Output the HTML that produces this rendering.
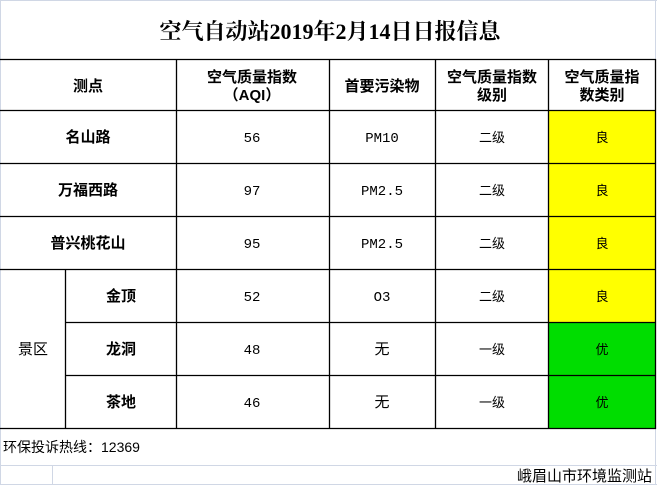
<!DOCTYPE html>
<html><head><meta charset="utf-8"><style>
html,body{margin:0;padding:0;background:#fff;width:657px;height:485px;overflow:hidden}
svg text{font-family:"Liberation Serif","Noto Serif CJK SC",serif;fill:#000}
.b{font-weight:bold;font-family:"Liberation Sans","Noto Sans CJK SC",sans-serif;font-size:15px}
.n{font-size:14px;font-family:"Liberation Mono","Noto Sans CJK SC",monospace}
.c{font-size:13px;font-family:"Liberation Sans","Noto Sans CJK SC",sans-serif}
</style></head><body>
<svg width="657" height="485" xmlns="http://www.w3.org/2000/svg">
<rect x="0" y="0" width="657" height="485" fill="#fff"/>
<g stroke="#d0d7e5" stroke-width="1" fill="none">
<line x1="0.5" y1="0" x2="0.5" y2="485"/>
<line x1="655.5" y1="0" x2="655.5" y2="485"/>
<line x1="0" y1="0.5" x2="657" y2="0.5"/>
<line x1="0" y1="465.5" x2="657" y2="465.5"/>
<line x1="52.5" y1="465" x2="52.5" y2="485"/>
<line x1="0" y1="484.5" x2="657" y2="484.5"/>
</g>
<rect x="548" y="110" width="107" height="212" fill="#ffff00"/>
<rect x="548" y="322" width="107" height="106" fill="#00dd00"/>
<g stroke="#000" stroke-width="1.3">
<line x1="0" y1="59.5" x2="656" y2="59.5"/>
<line x1="0" y1="110.5" x2="656" y2="110.5"/>
<line x1="0" y1="163.5" x2="656" y2="163.5"/>
<line x1="0" y1="216.5" x2="656" y2="216.5"/>
<line x1="0" y1="269.5" x2="656" y2="269.5"/>
<line x1="65" y1="322.5" x2="656" y2="322.5"/>
<line x1="65" y1="375.5" x2="656" y2="375.5"/>
<line x1="0" y1="428.5" x2="656" y2="428.5"/>
<line x1="176.5" y1="59" x2="176.5" y2="429"/>
<line x1="329.5" y1="59" x2="329.5" y2="429"/>
<line x1="435.5" y1="59" x2="435.5" y2="429"/>
<line x1="548.5" y1="59" x2="548.5" y2="429"/>
<line x1="655.5" y1="59" x2="655.5" y2="429"/>
<line x1="65.5" y1="269" x2="65.5" y2="429"/>
</g>
<text x="330" y="39" text-anchor="middle" font-size="22" font-weight="bold">空气自动站2019年2月14日日报信息</text>
<g text-anchor="middle">
<text class="b" x="88" y="91">测点</text>
<text class="b" x="252" y="82">空气质量指数</text>
<text class="b" x="252" y="100">（AQI）</text>
<text class="b" x="382" y="91">首要污染物</text>
<text class="b" x="492" y="82">空气质量指数</text>
<text class="b" x="492" y="100">级别</text>
<text class="b" x="602" y="82">空气质量指</text>
<text class="b" x="602" y="100">数类别</text>

<text class="b" x="88" y="142">名山路</text>
<text class="b" x="88" y="195">万福西路</text>
<text class="b" x="88" y="248">普兴桃花山</text>
<text class="b" x="121" y="301">金顶</text>
<text class="b" x="121" y="354">龙洞</text>
<text class="b" x="121" y="407">茶地</text>
<text class="c" x="33" y="354" style="font-size:15px">景区</text>

<text class="n" x="252" y="142">56</text>
<text class="n" x="252" y="195">97</text>
<text class="n" x="252" y="248">95</text>
<text class="n" x="252" y="301">52</text>
<text class="n" x="252" y="354">48</text>
<text class="n" x="252" y="407">46</text>

<text class="n" x="382" y="142">PM10</text>
<text class="n" x="382" y="195">PM2.5</text>
<text class="n" x="382" y="248">PM2.5</text>
<text class="n" x="382" y="301">O3</text>
<text class="c" x="382" y="354" style="font-size:15px">无</text>
<text class="c" x="382" y="407" style="font-size:15px">无</text>

<text class="c" x="492" y="142">二级</text>
<text class="c" x="492" y="195">二级</text>
<text class="c" x="492" y="248">二级</text>
<text class="c" x="492" y="301">二级</text>
<text class="c" x="492" y="354">一级</text>
<text class="c" x="492" y="407">一级</text>

<text class="c" x="602" y="142">良</text>
<text class="c" x="602" y="195">良</text>
<text class="c" x="602" y="248">良</text>
<text class="c" x="602" y="301">良</text>
<text class="c" x="602" y="354">优</text>
<text class="c" x="602" y="407">优</text>
</g>
<text class="c" x="3" y="452" style="font-size:14px">环保投诉热线：12369</text>
<text class="c" x="652" y="481" text-anchor="end" style="font-size:15px">峨眉山市环境监测站</text>
</svg>
</body></html>
